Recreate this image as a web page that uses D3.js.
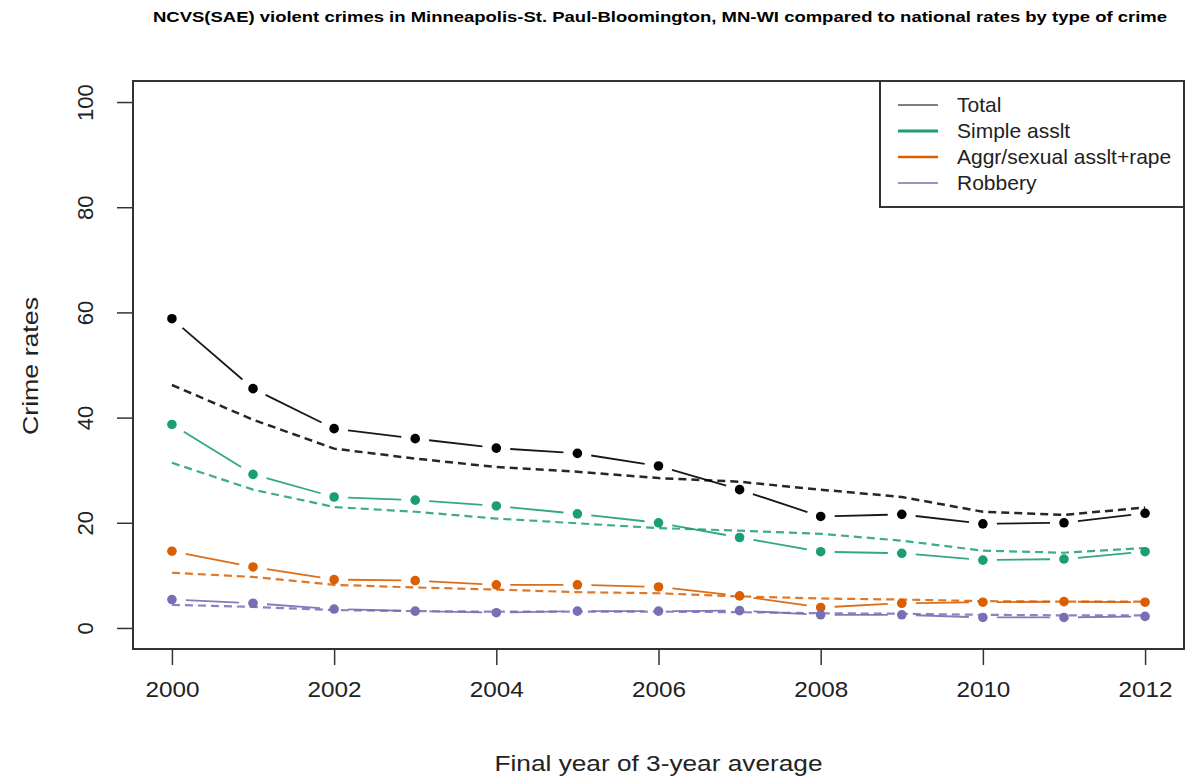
<!DOCTYPE html>
<html><head><meta charset="utf-8">
<script src="https://cdn.jsdelivr.net/npm/d3@7/dist/d3.min.js"></script>
<style>body{margin:0;background:#fff}svg{display:block}text{font-family:"Liberation Sans",Arial,sans-serif}</style>
</head><body><svg id="c" width="1188" height="782"></svg>
<script>
const years = [2000,2001,2002,2003,2004,2005,2006,2007,2008,2009,2010,2011,2012];
const xTicks = [2000,2002,2004,2006,2008,2010,2012];
const yTicks = [0,20,40,60,80,100];
const seriesNames = ["Total","Simple asslt","Aggr/sexual asslt+rape","Robbery"];
const seriesColors = ["#000000","#1b9e77","#d95f02","#7570b3"];
// local (MSA) rates - solid lines with points
const totalLocal  = [58.8,45.5,37.9,36.0,34.2,33.2,30.8,26.3,21.2,21.6,19.8,20.0,21.8];
const simpleLocal = [38.7,29.2,24.9,24.3,23.2,21.7,20.0,17.2,14.5,14.2,12.9,13.1,14.5];
const aggrLocal   = [14.6,11.6,9.2,9.0,8.2,8.2,7.8,6.1,3.9,4.7,4.9,5.0,4.9];
const robLocal    = [5.4,4.7,3.6,3.2,2.9,3.2,3.2,3.3,2.5,2.5,2.0,2.0,2.2];
// national rates - dashed lines
const totalNat  = [46.2,39.6,34.1,32.2,30.6,29.7,28.5,27.8,26.3,24.9,22.1,21.5,22.9];
const simpleNat = [31.4,26.3,23.0,22.1,20.8,19.9,19.0,18.5,17.9,16.6,14.7,14.3,15.2];
const aggrNat   = [10.5,9.7,8.2,7.7,7.3,6.8,6.6,6.0,5.6,5.4,5.1,5.0,5.0];
const robNat    = [4.4,4.0,3.4,3.2,3.1,3.1,3.1,3.0,2.8,2.7,2.5,2.4,2.4];
const title = "NCVS(SAE) violent crimes in Minneapolis-St. Paul-Bloomington, MN-WI compared to national rates by type of crime";

const locals = [totalLocal, simpleLocal, aggrLocal, robLocal];
const nats = [totalNat, simpleNat, aggrNat, robNat];

const svg = d3.select("#c");
const box = {l:133, r:1184, t:81, b:649};
const x = d3.scaleLinear().domain([1999.52, 2012.48]).range([box.l, box.r]);
const y = d3.scaleLinear().domain([-4, 104]).range([box.b, box.t]);

// title
svg.append("text").attr("x", 660).attr("y", 22).attr("text-anchor","middle")
  .attr("font-size", 15).attr("font-weight","bold")
  .attr("textLength", 1014).attr("lengthAdjust","spacingAndGlyphs").text(title);

// axes
const xAxis = svg.append("g").attr("transform", `translate(0,${box.b})`)
  .call(d3.axisBottom(x).tickValues(xTicks).tickFormat(d3.format("d")).tickSize(16).tickPadding(16));
xAxis.select(".domain").remove();
xAxis.selectAll("line").attr("stroke","#333").attr("stroke-width",1.5);
xAxis.selectAll("text").attr("font-size",22).attr("fill","#222")
  .attr("font-family","Liberation Sans, Arial, sans-serif")
  .attr("textLength",54).attr("lengthAdjust","spacingAndGlyphs");

const yAxis = svg.append("g").attr("transform", `translate(${box.l},0)`)
  .call(d3.axisLeft(y).tickValues(yTicks).tickSize(16).tickPadding(0));
yAxis.select(".domain").remove();
yAxis.selectAll("line").attr("stroke","#333").attr("stroke-width",1.5);
yAxis.selectAll("text").attr("font-size",22).attr("fill","#222")
  .attr("font-family","Liberation Sans, Arial, sans-serif")
  .attr("x",null).attr("dy",null)
  .attr("text-anchor","middle")
  .attr("transform","translate(-40,0) rotate(-90)");

// plot box
svg.append("rect").attr("x",box.l).attr("y",box.t).attr("width",box.r-box.l).attr("height",box.b-box.t)
  .attr("fill","none").attr("stroke","#333").attr("stroke-width",2);

// axis titles
svg.append("text").attr("x",(box.l+box.r)/2).attr("y",771).attr("text-anchor","middle")
  .attr("font-size",22).attr("fill","#222")
  .attr("textLength",328).attr("lengthAdjust","spacingAndGlyphs").text("Final year of 3-year average");
svg.append("text").attr("transform","translate(38,366) rotate(-90)").attr("text-anchor","middle")
  .attr("font-size",22).attr("fill","#222")
  .attr("textLength",138).attr("lengthAdjust","spacingAndGlyphs").text("Crime rates");

const plot = svg.append("g");
// national dashed lines
const line = d3.line().x((d,i)=>x(years[i])).y(d=>y(d));
nats.forEach((s,k)=>{
  plot.append("path").attr("d", line(s)).attr("fill","none")
    .attr("stroke", seriesColors[k]).attr("stroke-width", k===0?2.5:2.2)
    .attr("stroke-dasharray","8,5").attr("opacity",0.85);
});
// local lines with gaps (type="b")
const gap = 14;
locals.forEach((s,k)=>{
  for (let i=0;i<s.length-1;i++){
    const x1=x(years[i]), y1=y(s[i]), x2=x(years[i+1]), y2=y(s[i+1]);
    const dx=x2-x1, dy=y2-y1, L=Math.hypot(dx,dy);
    if (L<=2*gap) continue;
    const ux=dx/L, uy=dy/L;
    plot.append("line").attr("x1",x1+ux*gap).attr("y1",y1+uy*gap)
      .attr("x2",x2-ux*gap).attr("y2",y2-uy*gap)
      .attr("stroke",seriesColors[k]).attr("stroke-width",1.8).attr("opacity",0.9);
  }
  plot.selectAll(null).data(s).enter().append("circle")
    .attr("cx",(d,i)=>x(years[i])).attr("cy",d=>y(d)).attr("r",4.8)
    .attr("fill",seriesColors[k]);
});

// legend
const lg = svg.append("g");
lg.append("rect").attr("x",880).attr("y",box.t).attr("width",box.r-880).attr("height",126)
  .attr("fill","#fff").attr("stroke","#333").attr("stroke-width",2);
const lw = [1,3,2.5,1.5];
seriesNames.forEach((n,i)=>{
  const yy = 105 + i*26;
  lg.append("line").attr("x1",898).attr("x2",938).attr("y1",yy).attr("y2",yy)
    .attr("stroke",seriesColors[i]).attr("stroke-width",lw[i]);
  lg.append("text").attr("x",957).attr("y",yy+7).attr("font-size",21).attr("fill","#222").text(n);
});
</script></body></html>
